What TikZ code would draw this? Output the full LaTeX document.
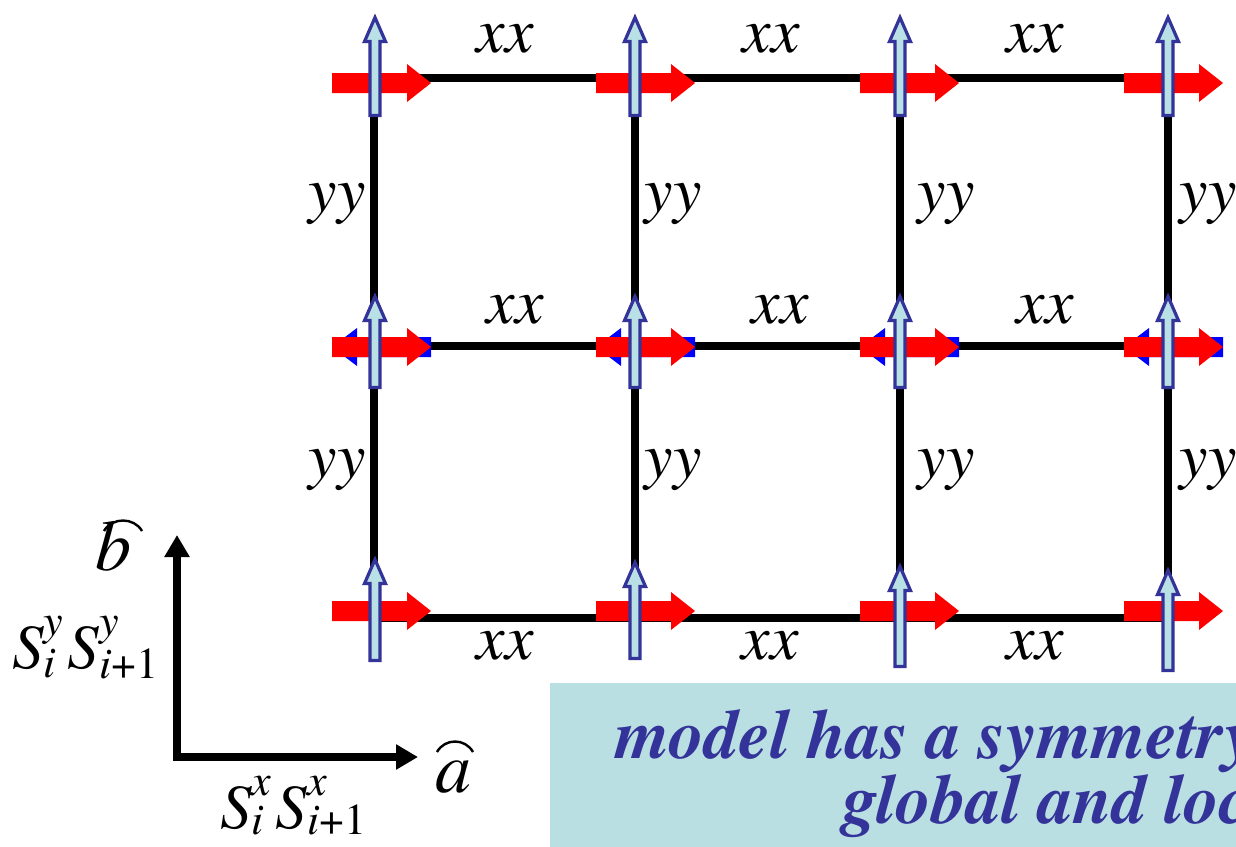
\documentclass[tikz,border=0pt]{standalone}
\usepackage{amsmath}
\usepackage{fontspec}
\setmainfont{texgyretermes}[Extension=.otf, UprightFont=*-regular, ItalicFont=*-italic, BoldFont=*-bold, BoldItalicFont=*-bolditalic]
\usetikzlibrary{arrows.meta}
\definecolor{lb}{HTML}{B9E0E4}
\definecolor{db}{HTML}{333399}
\definecolor{boxbg}{HTML}{B9DFE3}
\newcommand{\RedArr}[2]{\fill[red] (#1,#2-10) -- (#1+75,#2-10) -- (#1+75,#2-19) -- (#1+99,#2) -- (#1+75,#2+19) -- (#1+75,#2+10) -- (#1,#2+10) -- cycle;}
\newcommand{\BlueLeft}[2]{\fill[blue] (#1,#2) -- (#1+25,#2-19) -- (#1+25,#2-10) -- (#1+99,#2-10) -- (#1+99,#2+10) -- (#1+25,#2+10) -- (#1+25,#2+19) -- cycle;}
\newcommand{\UpArr}[3]{\filldraw[uparrow] (#1,#2+4.5) -- (#1+10.5,#2+28.5) -- (#1+5,#2+28.5) -- (#1+5,#3-1.6) -- (#1-5,#3-1.6) -- (#1-5,#2+28.5) -- (#1-10.5,#2+28.5) -- cycle;}
\tikzset{
  uparrow/.style={fill=lb,draw=db,line width=3.2pt,line join=miter},
  bond/.style={line width=8pt,black},
  lab/.style={font=\fontsize{64}{64}\selectfont\itshape, inner sep=0pt},
  mlab/.style={font=\fontsize{63}{63}\selectfont, inner sep=0pt, anchor=base west},
  hatlab/.style={font=\fontsize{72}{72}\selectfont\itshape, inner sep=0pt, anchor=base west},
  hatarc/.style={line width=2.4pt},
  axis/.style={line width=8pt, line join=miter, {Triangle[length=22pt,width=24pt]}-{Triangle[length=22pt,width=24pt]}},
  boxtext/.style={font=\fontsize{70}{70}\selectfont\bfseries\itshape, text=db, inner sep=0pt, anchor=base west}
}
\begin{document}
\begin{tikzpicture}[x=1pt,y=-1pt]
\useasboundingbox (0,0) rectangle (1236,846);
\clip (0,0) rectangle (1236,846);
% lattice sites
\foreach \c/\x in {1/374,2/635,3/900,4/1168}{
  \foreach \r/\y in {1/78,2/346,3/618}{
    \coordinate (s\r\c) at (\x,\y);
  }
}
% bonds
\foreach \r in {1,2,3}{
  \draw[bond] (s\r1) -- (s\r2) -- (s\r3) -- (s\r4);
}
\foreach \c in {1,2,3,4}{
  \draw[bond] (s1\c) -- (s2\c) -- (s3\c);
}
% blue left arrows (middle row)
\foreach \sx in {332,596,860,1124}{ \BlueLeft{\sx}{347} }
% red arrows
\foreach \sx in {332,596,860,1124}{
  \RedArr{\sx}{83}
  \RedArr{\sx}{347}
  \RedArr{\sx}{611}
}
% up arrows
\foreach \cx in {375,635,900,1168}{
  \UpArr{\cx}{13}{117}
  \UpArr{\cx}{292}{389}
}
\UpArr{375}{555}{662}
\UpArr{635}{558}{660}
\UpArr{900}{562}{668}
\UpArr{1168}{566}{672}
% bond labels
\node[lab] (x11) at (505,39) {xx};
\node[lab] (x12) at (771,39) {xx};
\node[lab] (x13) at (1035,39) {xx};
\node[lab] (x21) at (515,310) {xx};
\node[lab] (x22) at (780,310) {xx};
\node[lab] (x23) at (1045,310) {xx};
\node[lab] (x31) at (505,646) {xx};
\node[lab] (x32) at (770,646) {xx};
\node[lab] (x33) at (1035,646) {xx};
\node[lab] (y11) at (337,204) {yy};
\node[lab] (y12) at (673,204) {yy};
\node[lab] (y13) at (946,204) {yy};
\node[lab] (y14) at (1208,204) {yy};
\node[lab] (y21) at (337,470) {yy};
\node[lab] (y22) at (673,470) {yy};
\node[lab] (y23) at (946,470) {yy};
\node[lab] (y24) at (1208,470) {yy};
% axes
\coordinate (o) at (177,757);
\coordinate (bt) at (177,535);
\coordinate (at) at (418,757);
\draw[axis] (bt) -- (o) -- (at);
\node[hatlab] (bl) at (95,570) {b};
\draw[hatarc] (104,531) .. controls (112,517) and (134,517) .. (142,531);
\node[hatlab] (al) at (435,792) {a};
\draw[hatarc] (437,752) .. controls (445,738) and (465,738) .. (473,752);
\node[mlab] (sy) at (12,668) {$\textit{S}^{\textit{y}}_{\textit{i}}\,\textit{S}^{\textit{y}}_{\textit{i}\text{+1}}$};
\node[mlab] (sx) at (220,828) {$\textit{S}^{\textit{x}}_{\textit{i}}\,\textit{S}^{\textit{x}}_{\textit{i}\text{+1}}$};
% text box
\node[fill=boxbg, anchor=north west, minimum width=720pt, minimum height=180pt, inner sep=0pt] (box) at (550,683) {};
\node[boxtext] (t1) at (615,758) {model has a symmetry};
\node[boxtext] (t2) at (843,823) {global and loc};
\end{tikzpicture}
\end{document}
